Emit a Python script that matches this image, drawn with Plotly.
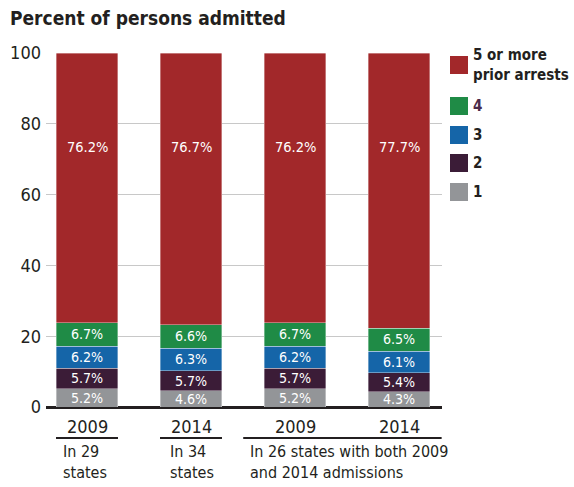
import plotly.graph_objects as go

years = ["2009", "2014", "2009", "2014"]
group_texts = ["In 29<br>states", "In 34<br>states", "In 26 states with both 2009<br>and 2014 admissions"]
series_names = ["1", "2", "3", "4", "5 or more<br>prior arrests"]
v1 = [5.2, 4.6, 5.2, 4.3]
v2 = [5.7, 5.7, 5.7, 5.4]
v3 = [6.2, 6.3, 6.2, 6.1]
v4 = [6.7, 6.6, 6.7, 6.5]
v5 = [76.2, 76.7, 76.2, 77.7]
colors = ["#939598", "#3B1C37", "#1565A8", "#1F8B46", "#A2282A"]
legend_text_colors = ["#231F20", "#231F20", "#231F20", "#4A2A4A", "#231F20"]

FONT = "DejaVu Sans Condensed, Roboto, sans-serif"
W, H = 574, 487
L, R, T, B = 46, 132, 53, 80
xs = [0, 1, 2, 3]
bw = 0.596
RED_LABEL_Y = 73.5

fig = go.Figure()
all_vals = [v1, v2, v3, v4, v5]
for i, (name, vals) in enumerate(zip(series_names, all_vals)):
    is_top = i == 4
    fig.add_trace(go.Bar(
        x=xs, y=vals, name=name, width=bw,
        marker=dict(color=colors[i], line=dict(color="rgba(255,255,255,0.6)", width=0.6)),
        text=None if is_top else [f"{v:.1f}%" for v in vals],
        textposition="inside", insidetextanchor="middle", textangle=0,
        textfont=dict(color="white", size=14.5, family=FONT),
        hoverinfo="skip", showlegend=False,
    ))

# labels of the top segment sit at a fixed height
for x, v in zip(xs, v5):
    fig.add_annotation(x=x, y=RED_LABEL_Y, xref="x", yref="y", showarrow=False,
                       text=f"{v:.1f}%", font=dict(color="white", size=14.5, family=FONT))

fig.update_layout(
    barmode="stack",
    width=W, height=H,
    margin=dict(l=L, r=R, t=T, b=B, autoexpand=False),
    plot_bgcolor="white", paper_bgcolor="white",
    font=dict(family=FONT, color="#231F20"),
    uniformtext=dict(minsize=14, mode="show"),
    title=dict(text="<b>Percent of persons admitted</b>", x=10 / W, xanchor="left",
               y=1 - 18 / H, yanchor="middle", font=dict(size=19, family=FONT, color="#231F20")),
    showlegend=False,
)
fig.update_xaxes(range=[(L - 87) / 104, (W - R - 87) / 104], showticklabels=False,
                 showgrid=False, zeroline=False, showline=False, ticks="")
fig.update_yaxes(range=[0, 100], tickvals=[0, 20, 40, 60, 80, 100],
                 tickfont=dict(size=18, family=FONT, color="#231F20"),
                 showgrid=True, gridcolor="#C8C8C8", gridwidth=1,
                 zeroline=True, zerolinecolor="#231F20", zerolinewidth=2.5,
                 ticks="", ticklabelstandoff=4)

# year labels
for x, yr in zip(xs, years):
    fig.add_annotation(x=x, y=0, xref="x", yref="paper", yanchor="middle", yshift=-19,
                       text=yr, showarrow=False, font=dict(size=18, family=FONT, color="#231F20"))

# underlines
ph = H - T - B
ly = -(438 - (H - B)) / ph
for x0, x1 in [(0 - bw / 2, 0 + bw / 2), (1 - bw / 2, 1 + bw / 2), (2 - bw / 2 - 0.2, 3.41)]:
    fig.add_shape(type="line", xref="x", yref="paper", x0=x0, x1=x1, y0=ly, y1=ly,
                  line=dict(color="#231F20", width=2))

# group labels
group_x = [0 - bw / 2 + 0.05, 1 - bw / 2 + 0.08, 2 - bw / 2 - 0.15]
for gx, gt in zip(group_x, group_texts):
    fig.add_annotation(x=gx, y=ly, xref="x", yref="paper", xanchor="left", yanchor="top",
                       yshift=-2, text=gt, showarrow=False, align="left",
                       font=dict(size=16, family=FONT, color="#231F20"))

# manual legend (top to bottom: 5+, 4, 3, 2, 1)
def py(pix):
    return 1 - (pix - T) / ph

def px(pix):
    return (pix - L) / (W - L - R)

leg_centers = [192, 163, 135, 106, 65]
for i in range(5):
    c = leg_centers[i]
    fig.add_shape(type="rect", xref="paper", yref="paper",
                  x0=px(450), x1=px(468), y0=py(c + 9), y1=py(c - 9),
                  fillcolor=colors[i], line=dict(width=0))
    fig.add_annotation(x=px(471), y=py(c), xref="paper", yref="paper",
                       xanchor="left", yanchor="middle", align="left", showarrow=False,
                       text=f"<b>{series_names[i]}</b>",
                       font=dict(size=15, family=FONT, color=legend_text_colors[i]))

fig.write_html("out.html", config={"displayModeBar": False},
               post_script="document.body.style.margin='0';document.body.style.padding='0';")
